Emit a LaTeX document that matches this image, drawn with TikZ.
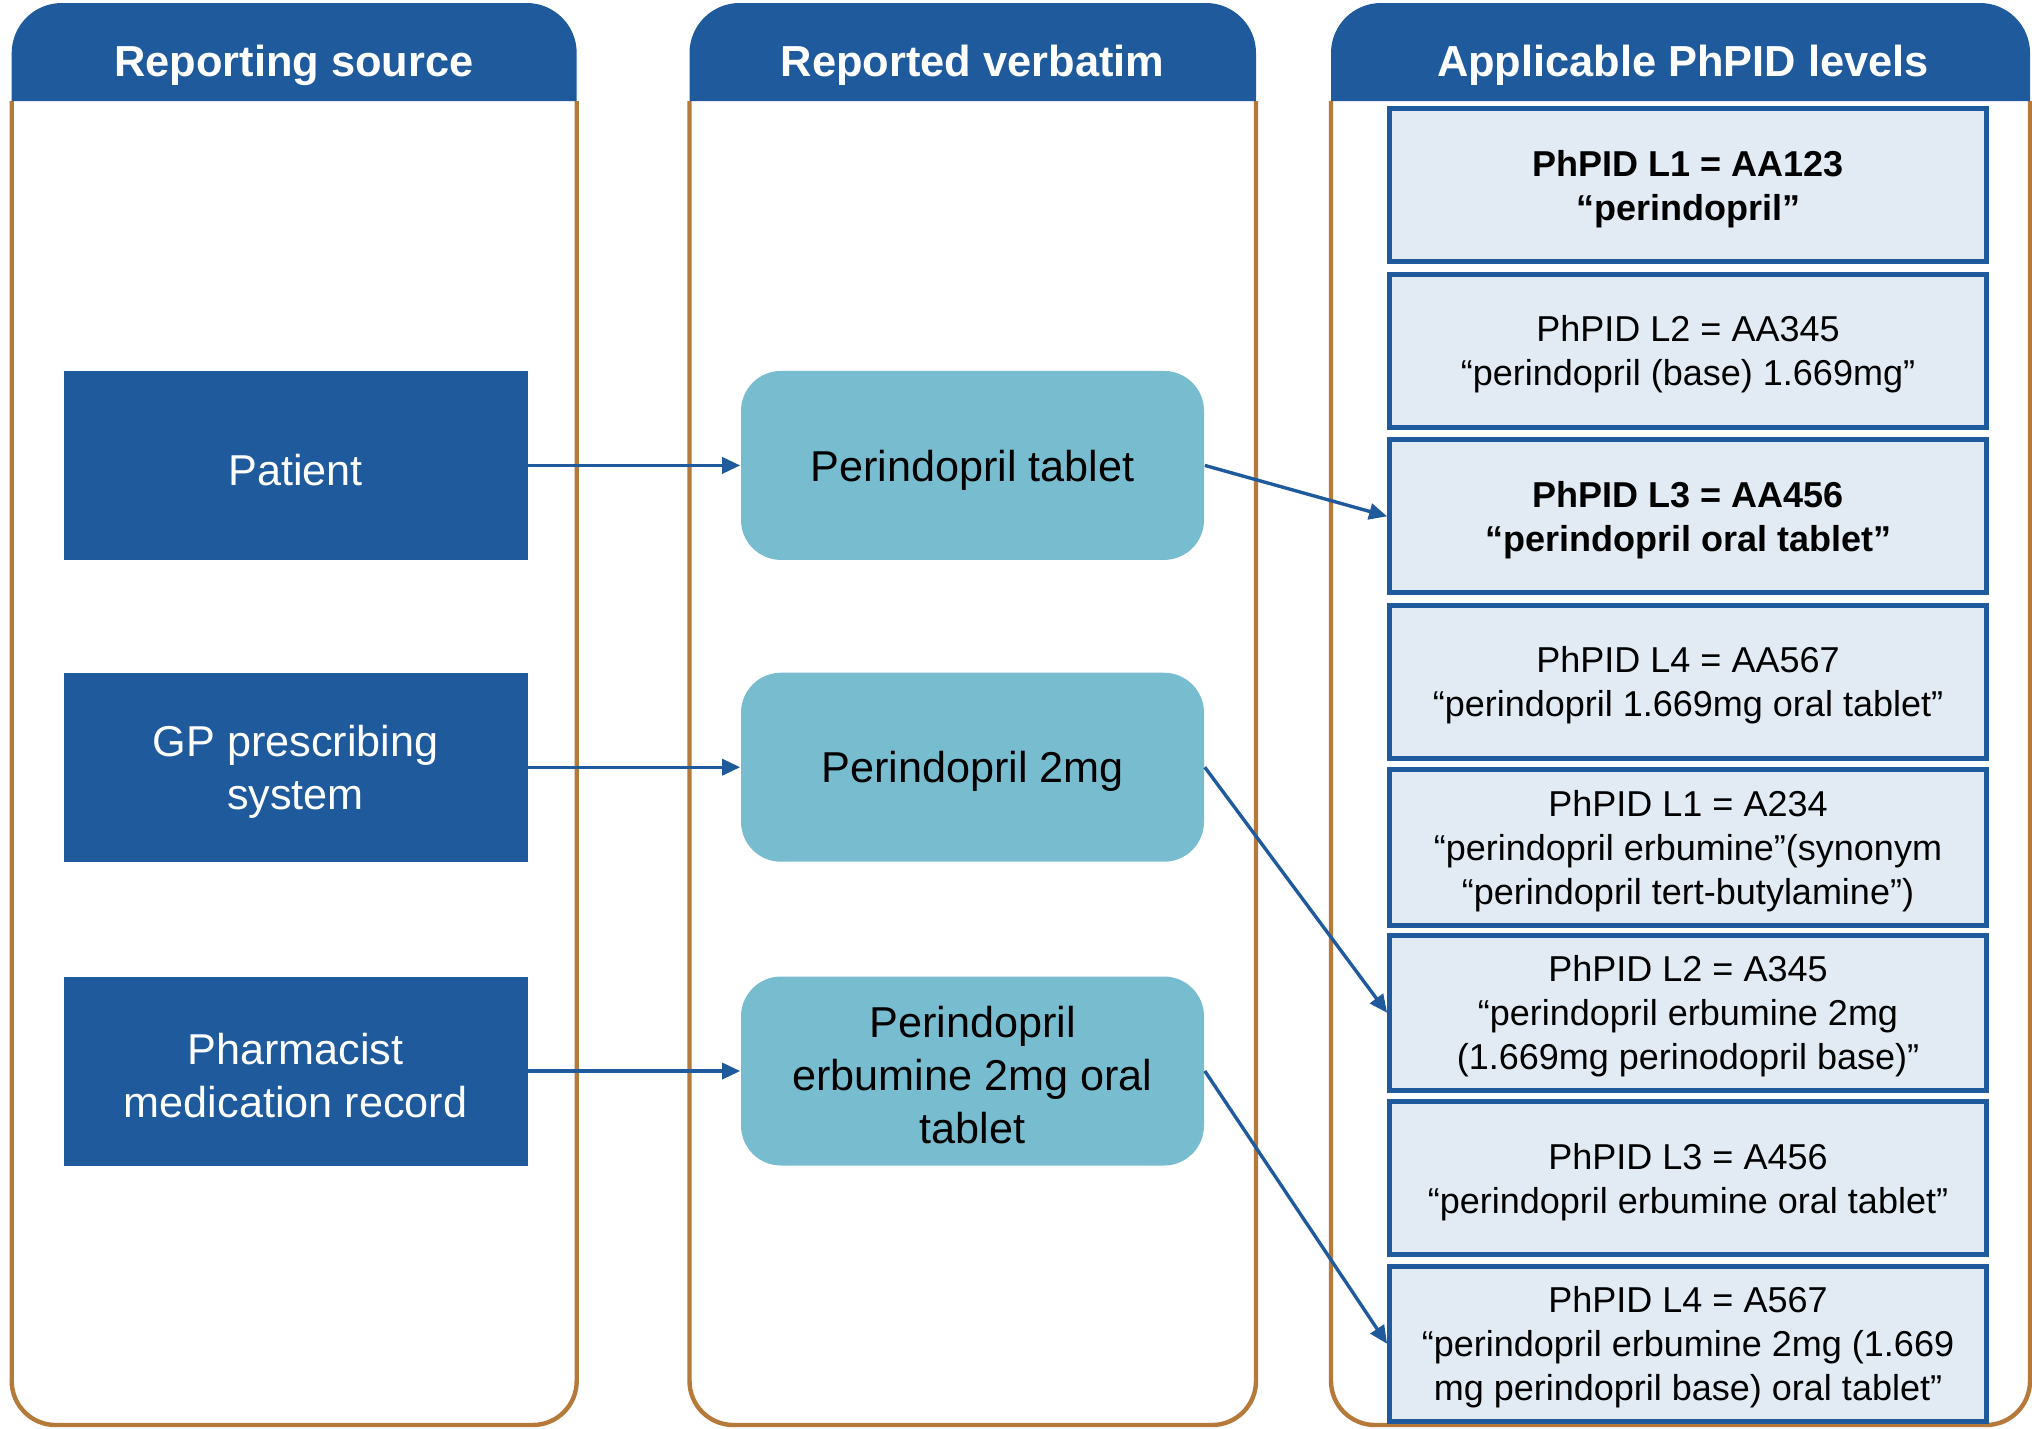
\documentclass[tikz,border=0pt]{standalone}
\usepackage{fontspec}
\setmainfont{Liberation Sans}
\usetikzlibrary{arrows.meta}

\definecolor{hdrblue}{HTML}{1F5A9C}
\definecolor{colbrown}{HTML}{B5793A}
\definecolor{verbteal}{HTML}{78BCCF}
\definecolor{lvlfill}{HTML}{E2EAF3}
\newcommand{\upstrut}{\rule{0pt}{0.93em}}

\begin{document}
\begin{tikzpicture}[x=0.25pt, y=-0.25pt,
    colframe/.style={draw=colbrown, line width=1.1pt, rounded corners=11pt},
    headtext/.style={text=white, font=\fontsize{10.85}{13}\selectfont\bfseries},
    srcbox/.style={fill=hdrblue, text=white, minimum width=116pt, minimum height=47.25pt,
        align=center, font=\fontsize{10.8}{13.2}\selectfont},
    verbbox/.style={fill=verbteal, rounded corners=10pt, minimum width=115.75pt,
        minimum height=47.25pt, align=center, font=\fontsize{10.8}{13.25}\selectfont},
    lvlbox/.style={draw=hdrblue, fill=lvlfill, line width=1.25pt, minimum width=149.2pt,
        minimum height=38.3pt, align=center},
    link/.style={-{Triangle[length=4.5pt,width=4pt]}, draw=hdrblue, line width=0.85pt}]
    \useasboundingbox (0,0) rectangle (2032,1428);

    % column frames and headers
    \foreach \xa/\xb in {11.7/576.7, 689.5/1256, 1331/2030}{
        \draw[colframe] (\xa,101) -- (\xa,1425) -- (\xb,1425) -- (\xb,101);
        \fill[hdrblue] (\xa,101) [rounded corners=12.5pt] -- (\xa,3) -- (\xb,3)
            [sharp corners] -- (\xb,101) -- cycle;
    }
    \node[headtext] (hsrc) at (294,65) {Reporting source};
    \node[headtext] (hverb) at (972.7,65) {Reported verbatim};
    \node[headtext] (hlvl) at (1683,65) {Applicable PhPID levels};

    % reporting sources
    \node[srcbox] (patient) at (295.5,465.4) {\upstrut Patient};
    \node[srcbox] (gp) at (295.5,767.2) {\upstrut GP prescribing\\system};
    \node[srcbox] (pharm) at (295.5,1071) {\upstrut Pharmacist\\medication record};

    % reported verbatim
    \node[verbbox] (tab) at (972.5,465.4) {\upstrut Perindopril tablet};
    \node[verbbox] (twomg) at (972.5,767.2) {\upstrut Perindopril 2mg};
    \node[verbbox] (erb) at (972.5,1071) {\upstrut Perindopril\\erbumine 2mg oral\\tablet};

    % PhPID levels
    \foreach \i/\fw/\txt in {
        1/\bfseries/{PhPID L1 = AA123\\“perindopril”},
        2/\mdseries/{PhPID L2 = AA345\\“perindopril (base) 1.669mg”},
        3/\bfseries/{PhPID L3 = AA456\\“perindopril oral tablet”},
        4/\mdseries/{PhPID L4 = AA567\\“perindopril 1.669mg oral tablet”},
        5/\mdseries/{PhPID L1 = A234\\“perindopril erbumine”(synonym\\“perindopril tert-butylamine”)},
        6/\mdseries/{PhPID L2 = A345\\“perindopril erbumine 2mg\\(1.669mg perinodopril base)”},
        7/\mdseries/{PhPID L3 = A456\\“perindopril erbumine oral tablet”},
        8/\mdseries/{PhPID L4 = A567\\“perindopril erbumine 2mg (1.669\\mg perindopril base) oral tablet”}}{
        \node[lvlbox, font=\fontsize{9}{11}\selectfont\fw] (lvl\i) at (1688,{185.3+165.5*(\i-1)}) {\upstrut\txt};
    }

    % links
    \draw[link] (patient) -- (tab);
    \draw[link] (gp) -- (twomg);
    \draw[link] (pharm) -- (erb);
    \draw[link] (tab.east) -- (lvl3.west);
    \draw[link] (twomg.east) -- (lvl6.west);
    \draw[link] (erb.east) -- (lvl8.west);
\end{tikzpicture}
\end{document}
